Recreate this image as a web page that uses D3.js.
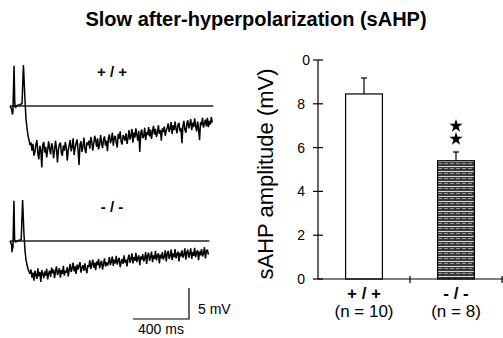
<!DOCTYPE html>
<html>
<head>
<meta charset="utf-8">
<script src="https://cdn.jsdelivr.net/npm/d3@7"></script>
<style>
  html, body { margin: 0; padding: 0; background: #fff; }
  svg { display: block; font-family: Arial, "Liberation Sans", Helvetica, sans-serif; }
</style>
</head>
<body>
<div id="chart"></div>
<script>
// ---- data ----
const genotypes = ['+ / +', '- / -'];
const nLabels = ['(n = 10)', '(n = 8)'];
const sahpMean = [8.45, 5.4];     // mV
const sahpSem = [0.73, 0.4];      // mV
const yTickValues = [0, 2, 4, 6, 8, 10];
const yTickLabels = ['0', '2', '4', '6', '8', '0'];

// trace onset: [ms, mV] (spikes are clipped in the figure)
const wtOnset = [[0, 0], [11, -0.5], [18, -1.4], [21, -0.8], [29, 6.5], [34, 0.5], [39, -0.3],
  [50, 0.1], [71, 0.2], [86, 0.4], [96, 6.6], [107, 1], [114, -2], [121, -3.5], [129, -4.8],
  [136, -5.5], [143, -6.3]];
const koOnset = [[0, 0], [11, -0.6], [15, -1.8], [18, -0.4], [21, -1.2], [28, 6.5], [33, 0.3],
  [40, -0.2], [60, 0.1], [80, 0.2], [90, 6.6], [100, 1], [107, -1.5], [114, -3], [121, -3.8],
  [129, -4.5], [136, -5], [143, -5.3]];

// slow AHP, one sample every 7 ms from 150 ms
const sampleStart = 150;
const sampleMs = 7;
const wtAhp = [
  -5.9, -7.2, -6.1, -8.0, -7.4, -6.2, -5.5, -7.7, -8.6, -6.4, -7.0, -9.9, -6.3, -5.8, -7.5, -6.6, -8.3, -7.1, -5.7, -6.9,
  -7.8, -6.0, -6.5, -8.4, -7.3, -5.6, -6.8, -9.1, -7.0, -6.2, -5.9, -7.6, -8.0, -6.4, -7.2, -5.8, -6.7, -8.8, -7.1, -6.3,
  -5.5, -7.3, -6.6, -5.2, -7.9, -6.8, -6.0, -5.4, -7.1, -9.5, -6.2, -5.7, -7.4, -6.5, -5.1, -6.9, -7.6, -5.9, -6.3, -5.6,
  -6.9, -5.0, -5.7, -7.2, -6.1, -4.8, -5.5, -6.6, -5.2, -7.0, -6.3, -4.7, -5.9, -6.8, -5.4, -4.9, -6.4, -5.6, -7.3, -5.1,
  -4.6, -6.0, -5.5, -4.3, -6.4, -5.1, -4.8, -5.9, -6.7, -4.5, -5.3, -4.1, -5.8, -6.2, -4.7, -5.0, -5.6, -4.4, -6.1, -5.2,
  -3.9, -5.4, -4.8, -3.7, -5.9, -4.3, -5.1, -3.6, -4.6, -5.6, -4.0, -7.4, -4.4, -3.8, -5.2, -4.9, -3.5, -5.5, -4.2, -4.7,
  -3.4, -4.9, -3.8, -5.3, -4.1, -3.2, -4.6, -3.7, -5.0, -4.3, -3.1, -4.5, -3.9, -5.6, -3.6, -4.2, -3.3, -4.8, -4.0, -3.5,
  -2.8, -4.2, -3.6, -2.6, -4.5, -3.1, -3.9, -2.5, -3.7, -4.4, -3.0, -2.7, -4.1, -3.5, -6.0, -3.2, -2.4, -3.8, -4.3, -2.9,
  -2.3, -3.6, -3.0, -2.1, -3.9, -2.7, -3.4, -2.0, -3.2, -4.1, -2.5, -3.7, -5.5, -2.6, -3.1, -1.9, -3.5, -2.8, -2.2, -3.3,
  -1.9, -3.4, -2.4, -3.0, -1.8, -2.7
];
const koAhp = [
  -4.6, -5.9, -5.1, -6.4, -4.8, -5.5, -6.1, -4.4, -5.7, -5.0, -6.6, -4.7, -5.3, -6.0, -4.9, -5.6, -4.5, -6.2, -5.2, -4.8,
  -5.8, -4.3, -5.2, -4.6, -6.0, -4.9, -4.1, -5.5, -5.0, -4.4, -5.9, -4.7, -5.3, -4.0, -5.6, -4.8, -5.1, -4.2, -5.7, -4.6,
  -3.7, -5.0, -4.4, -3.5, -4.9, -4.1, -5.3, -3.8, -4.6, -4.0, -3.4, -5.1, -4.3, -3.9, -4.8, -3.6, -4.5, -5.2, -3.9, -4.2,
  -3.1, -4.5, -3.8, -3.0, -4.3, -3.5, -4.7, -3.3, -3.9, -2.9, -4.4, -3.6, -3.2, -4.6, -3.7, -2.8, -4.1, -3.4, -4.0, -3.5,
  -2.6, -3.9, -3.3, -2.5, -4.0, -3.0, -3.6, -2.4, -3.8, -3.1, -2.7, -4.2, -3.4, -2.9, -3.7, -2.3, -3.5, -3.0, -4.1, -2.8,
  -2.2, -3.5, -2.9, -2.0, -3.6, -2.6, -3.2, -1.9, -3.4, -2.7, -2.3, -3.9, -2.5, -3.0, -2.1, -3.3, -2.8, -1.8, -3.7, -2.4,
  -1.9, -3.2, -2.6, -1.7, -3.4, -2.3, -2.9, -1.6, -3.1, -2.4, -2.0, -3.6, -2.2, -2.8, -1.8, -3.0, -2.5, -1.5, -3.3, -2.1,
  -1.6, -2.9, -2.3, -1.4, -3.1, -2.0, -2.6, -1.3, -2.8, -2.1, -1.7, -3.3, -1.9, -2.5, -1.5, -2.7, -2.2, -1.2, -3.0, -1.8,
  -1.4, -2.7, -2.1, -1.2, -2.9, -1.8, -2.4, -1.1, -2.6, -1.9, -1.5, -3.1, -1.7, -2.3, -1.3, -2.5, -2.0, -1.0, -2.8, -1.6,
  -1.4, -2.2
];
const scaleBarMs = 400;
const scaleBarMv = 5;

// ---- drawing ----
const width = 503, height = 338;
const svg = d3.select('#chart').append('svg')
  .attr('width', width)
  .attr('height', height);

svg.append('text')
  .attr('x', 256).attr('y', 26)
  .attr('text-anchor', 'middle')
  .attr('font-size', 20).attr('font-weight', 'bold')
  .text('Slow after-hyperpolarization (sAHP)');

// traces
const tScale = d3.scaleLinear().domain([0, 1450]).range([10, 213]);
const pxPerMv = 6.2;

function toPoints(onset, ahp) {
  return onset.concat(ahp.map((v, i) => [sampleStart + i * sampleMs, v]));
}

const panels = [
  { label: genotypes[0], base: 106, labelY: 77, pts: toPoints(wtOnset, wtAhp) },
  { label: genotypes[1], base: 241, labelY: 212, pts: toPoints(koOnset, koAhp) }
];

panels.forEach(p => {
  const vScale = d3.scaleLinear().domain([0, 1]).range([p.base, p.base - pxPerMv]);
  const g = svg.append('g');
  const last = p.pts[p.pts.length - 1][0];
  // baseline (0 mV)
  g.append('line')
    .attr('x1', tScale(0)).attr('x2', tScale(last) + 1)
    .attr('y1', vScale(0)).attr('y2', vScale(0))
    .attr('stroke', '#222').attr('stroke-width', 1.3);
  const line = d3.line().x(d => tScale(d[0])).y(d => vScale(d[1]));
  g.append('path')
    .datum(p.pts)
    .attr('d', line)
    .attr('fill', 'none')
    .attr('stroke', '#000')
    .attr('stroke-width', 1.5)
    .attr('stroke-linejoin', 'bevel');
  g.append('text')
    .attr('x', 112).attr('y', p.labelY)
    .attr('text-anchor', 'middle')
    .attr('font-size', 15).attr('font-weight', 'bold')
    .text(p.label);
});

// scale bar
const sbX = 189, sbY = 319;
const sbW = tScale(scaleBarMs) - tScale(0);
const sbH = scaleBarMv * pxPerMv;
svg.append('path')
  .attr('d', `M${sbX - sbW},${sbY}H${sbX}V${sbY - sbH}`)
  .attr('fill', 'none').attr('stroke', '#000').attr('stroke-width', 1.2);
svg.append('text')
  .attr('x', sbX + 9).attr('y', 314)
  .attr('font-size', 14)
  .text(scaleBarMv + ' mV');
svg.append('text')
  .attr('x', sbX - sbW / 2).attr('y', 334)
  .attr('text-anchor', 'middle')
  .attr('font-size', 14)
  .text(scaleBarMs + ' ms');

// bar chart
const x = d3.scaleBand().domain(genotypes).range([318, 502])
  .paddingInner(0.6).paddingOuter(0.3);
const y = d3.scaleLinear().domain([0, 10]).range([279, 60]);
const center = g => x(g) + x.bandwidth() / 2;

const defs = svg.append('defs');
const pat = defs.append('pattern')
  .attr('id', 'stripes')
  .attr('patternUnits', 'userSpaceOnUse')
  .attr('width', 6).attr('height', 5);
pat.append('rect').attr('width', 6).attr('height', 5).attr('fill', '#3a3a3a');
pat.append('rect').attr('y', 1).attr('width', 6).attr('height', 1).attr('fill', '#d8d8d8');
pat.append('rect').attr('y', 3).attr('width', 4).attr('height', 1).attr('fill', '#999');

const bars = svg.append('g');
genotypes.forEach((gName, i) => {
  const bx = x(gName), bw = x.bandwidth();
  const cx = center(gName);
  const top = y(sahpMean[i] + sahpSem[i]);
  // error bar (upper only)
  bars.append('line')
    .attr('x1', cx).attr('x2', cx)
    .attr('y1', y(sahpMean[i])).attr('y2', top)
    .attr('stroke', '#000').attr('stroke-width', 1.2);
  bars.append('line')
    .attr('x1', cx - 3).attr('x2', cx + 3)
    .attr('y1', top).attr('y2', top)
    .attr('stroke', '#000').attr('stroke-width', 1.2);
  bars.append('rect')
    .attr('x', bx).attr('width', bw)
    .attr('y', y(sahpMean[i])).attr('height', y(0) - y(sahpMean[i]))
    .attr('fill', i === 0 ? '#fff' : 'url(#stripes)')
    .attr('stroke', '#000').attr('stroke-width', 1.2);
});

// significance stars (**)
[126, 139].forEach(sy => {
  svg.append('path')
    .attr('transform', `translate(${center(genotypes[1])},${sy})`)
    .attr('d', d3.symbol(d3.symbolStar, 55)())
    .attr('fill', '#000');
});

// y axis
const yAxis = svg.append('g');
yAxis.append('line')
  .attr('x1', 318).attr('x2', 318).attr('y1', y(10)).attr('y2', y(0))
  .attr('stroke', '#000').attr('stroke-width', 1.2);
yTickValues.forEach((v, i) => {
  yAxis.append('line')
    .attr('x1', 313).attr('x2', 323).attr('y1', y(v)).attr('y2', y(v))
    .attr('stroke', '#000').attr('stroke-width', 1.2);
  yAxis.append('text')
    .attr('x', i === yTickValues.length - 1 ? 310 : 305)
    .attr('y', y(v) + 5)
    .attr('text-anchor', 'end')
    .attr('font-size', 14)
    .text(yTickLabels[i]);
});
svg.append('text')
  .attr('transform', 'translate(273,174) rotate(-90)')
  .attr('text-anchor', 'middle')
  .attr('font-size', 22)
  .text('sAHP amplitude (mV)');

// x axis
const xAxis = svg.append('g');
xAxis.append('line')
  .attr('x1', 318).attr('x2', 503).attr('y1', y(0)).attr('y2', y(0))
  .attr('stroke', '#000').attr('stroke-width', 1.2);
[(center(genotypes[0]) + center(genotypes[1])) / 2, 502].forEach(tx => {
  xAxis.append('line')
    .attr('x1', tx).attr('x2', tx).attr('y1', y(0) - 3).attr('y2', y(0) + 4)
    .attr('stroke', '#000').attr('stroke-width', 1.2);
});
genotypes.forEach((gName, i) => {
  const cx = center(gName);
  xAxis.append('text')
    .attr('x', cx).attr('y', 299)
    .attr('text-anchor', 'middle')
    .attr('font-size', 17).attr('font-weight', 'bold')
    .text(gName);
  xAxis.append('text')
    .attr('x', cx).attr('y', 317)
    .attr('text-anchor', 'middle')
    .attr('font-size', 17)
    .text(nLabels[i]);
});
</script>
</body>
</html>
